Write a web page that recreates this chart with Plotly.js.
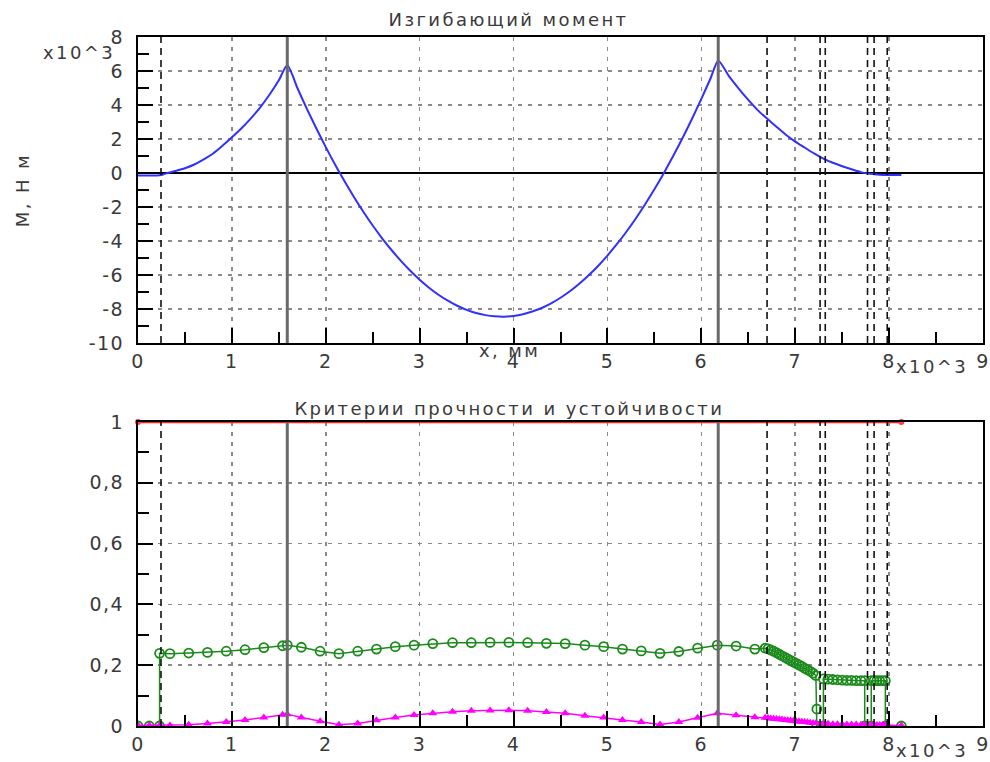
<!DOCTYPE html>
<html>
<head>
<meta charset="utf-8">
<script src="https://cdn.plot.ly/plotly-3.0.1.min.js"></script>
<style>
html,body{margin:0;padding:0;background:#fff;}
#chart{width:990px;height:762px;}
#chart .main-svg text{letter-spacing:1.5px;}
#chart .main-svg .annotation text{letter-spacing:2.4px;}
#chart .gridlayer path{stroke-dasharray:4px 6px !important;}
</style>
</head>
<body>
<div id="chart"></div>
<script>
// ---- Data (x in 10^3 mm) ----
// Bending moment M, x10^3 N m
const momentX = [0, 0.1, 0.2, 0.25, 0.3, 0.4, 0.5, 0.6, 0.7, 0.8, 0.9, 1.0, 1.1, 1.2, 1.3, 1.4, 1.5, 1.59,
  1.7, 1.8, 1.9, 2.0, 2.1, 2.2, 2.3, 2.4, 2.5, 2.6, 2.7, 2.8, 2.9, 3.0, 3.1, 3.2, 3.3, 3.4, 3.5, 3.6, 3.7, 3.8, 3.9,
  4.0, 4.1, 4.2, 4.3, 4.4, 4.5, 4.6, 4.7, 4.8, 4.9, 5.0, 5.1, 5.2, 5.3, 5.4, 5.5, 5.6, 5.7, 5.8, 5.9, 6.0, 6.1, 6.18,
  6.3, 6.4, 6.5, 6.6, 6.7, 6.8, 6.9, 7.0, 7.1, 7.2, 7.3, 7.4, 7.5, 7.6, 7.7, 7.8, 7.9, 8.0, 8.13];
const momentY = [-0.15, -0.15, -0.15, -0.12, -0.02, 0.12, 0.28, 0.5, 0.8, 1.15, 1.6, 2.1, 2.62, 3.2, 3.85, 4.6, 5.45, 6.35,
  4.97, 3.76, 2.62, 1.52, 0.49, -0.49, -1.41, -2.28, -3.09, -3.84, -4.53, -5.17, -5.75, -6.28, -6.75, -7.16, -7.51, -7.81, -8.05, -8.24, -8.36, -8.43, -8.45,
  -8.41, -8.31, -8.15, -7.94, -7.67, -7.34, -6.96, -6.52, -6.02, -5.47, -4.86, -4.19, -3.47, -2.69, -1.85, -0.96, -0.01, 1.0, 2.06, 3.18, 4.36, 5.59, 6.62,
  5.65, 4.95, 4.3, 3.7, 3.2, 2.72, 2.25, 1.85, 1.5, 1.15, 0.85, 0.6, 0.4, 0.22, 0.05, -0.05, -0.1, -0.12, -0.12];

// Criteria
const strengthX = [0, 8.13];
const strengthY = [1, 1];

const stabX = [0, 0.12, 0.23, 0.23, 0.34, 0.54, 0.74, 0.94, 1.14, 1.34, 1.54, 1.59, 1.74, 1.94, 2.14, 2.34, 2.54, 2.74, 2.94,
  3.14, 3.35, 3.55, 3.75, 3.95, 4.15, 4.35, 4.55, 4.76, 4.96, 5.16, 5.36, 5.56, 5.76, 5.96, 6.17, 6.37, 6.57, 6.68,
  6.71, 6.74, 6.77, 6.80, 6.83, 6.86, 6.89, 6.92, 6.95, 6.98, 7.01, 7.04, 7.07, 7.10, 7.13, 7.16, 7.19, 7.22,
  7.23, 7.23, 7.30, 7.30, 7.35, 7.40, 7.45, 7.50, 7.55, 7.60, 7.65, 7.70, 7.74, 7.74, 7.81, 7.81, 7.84, 7.87, 7.90, 7.93, 7.96, 7.96, 8.13];
const stabY = [0, 0, 0, 0.239, 0.238, 0.240, 0.242, 0.246, 0.251, 0.258, 0.264, 0.266, 0.259, 0.246, 0.238, 0.246, 0.253, 0.261, 0.266,
  0.271, 0.274, 0.274, 0.275, 0.275, 0.274, 0.272, 0.271, 0.266, 0.261, 0.253, 0.247, 0.239, 0.245, 0.256, 0.266, 0.263, 0.253, 0.256,
  0.254, 0.250, 0.246, 0.241, 0.236, 0.231, 0.226, 0.221, 0.216, 0.211, 0.206, 0.201, 0.196, 0.190, 0.185, 0.180, 0.174, 0.166,
  0.056, 0, 0, 0.155, 0.154, 0.153, 0.152, 0.151, 0.150, 0.150, 0.149, 0.149, 0.149, 0, 0, 0.149, 0.149, 0.149, 0.149, 0.149, 0.149, 0, 0];

const bendX = [0, 0.12, 0.23, 0.34, 0.54, 0.74, 0.94, 1.14, 1.34, 1.54, 1.59, 1.74, 1.94, 2.14, 2.34, 2.54, 2.74, 2.94,
  3.14, 3.35, 3.55, 3.75, 3.95, 4.15, 4.35, 4.55, 4.76, 4.96, 5.16, 5.36, 5.56, 5.76, 5.96, 6.17, 6.37, 6.57, 6.68,
  6.71, 6.74, 6.77, 6.80, 6.83, 6.86, 6.89, 6.92, 6.95, 6.98, 7.01, 7.04, 7.07, 7.10, 7.13, 7.16, 7.19, 7.22,
  7.30, 7.35, 7.40, 7.45, 7.50, 7.55, 7.60, 7.65, 7.70, 7.74, 7.81, 7.84, 7.87, 7.90, 7.93, 7.96, 8.13];
const bendY = [0.002, 0.002, 0.002, 0.002, 0.004, 0.008, 0.013, 0.020, 0.028, 0.037, 0.039, 0.028, 0.016, 0.004, 0.008, 0.019, 0.028, 0.036,
  0.042, 0.047, 0.050, 0.051, 0.052, 0.050, 0.046, 0.042, 0.034, 0.028, 0.020, 0.013, 0.005, 0.013, 0.027, 0.042, 0.035, 0.029, 0.027,
  0.026, 0.025, 0.024, 0.023, 0.022, 0.021, 0.020, 0.019, 0.018, 0.017, 0.016, 0.015, 0.014, 0.013, 0.012, 0.011, 0.010, 0.009,
  0.007, 0.007, 0.006, 0.006, 0.006, 0.005, 0.005, 0.005, 0.004, 0.004, 0.004, 0.004, 0.003, 0.003, 0.003, 0.003, 0.002];

// supports (solid) and section boundaries (dashed), x in 10^3 mm
const supportX = [1.59, 6.18];
const sectionX = [0.245, 6.70, 7.265, 7.32, 7.77, 7.84, 7.98];

const xTicks = [0, 1, 2, 3, 4, 5, 6, 7, 8, 9];
const xTickText = ['0', '1', '2', '3', '4', '5', '6', '7', '8', '9'];
const mTicks = [-10, -8, -6, -4, -2, 0, 2, 4, 6, 8];
const mTickText = ['-10', '-8', '-6', '-4', '-2', '0', '2', '4', '6', '8'];
const kTicks = [0, 0.2, 0.4, 0.6, 0.8, 1];
const kTickText = ['0', '0,2', '0,4', '0,6', '0,8', '1'];

// ---- Layout helpers ----
const W = 990, H = 762, ML = 138, MR = 7, MT = 37, MB = 36;
const PW = W - ML - MR, PH = H - MT - MB;
const px = v => (v - ML) / PW;
const py = v => (H - MB - v) / PH;

const FONT = 'DejaVu Sans, Verdana, sans-serif';
const TXT = '#3a3a3a';
const tickFont = {family: FONT, size: 19, color: TXT};

const tickStyle = (minorStep) => ({
  ticks: 'inside', ticklen: 15, tickwidth: 2, tickcolor: '#000',
  minor: {dtick: minorStep, ticks: 'inside', ticklen: 11, tickwidth: 2, tickcolor: '#000', showgrid: false}
});

// main axis: labels + ticks + frame line + grid (dotted via CSS)
function mainAxis(vals, text, range, minorStep, extra) {
  return Object.assign({range: range, tickmode: 'array', tickvals: vals, ticktext: text,
    showline: true, linecolor: '#000', linewidth: 2, mirror: true,
    showgrid: true, gridcolor: '#8a8a8a', gridwidth: 1.5,
    zeroline: false, tickfont: tickFont}, tickStyle(minorStep), extra);
}
// mirrored ticks on the opposite side
function mirrorAxis(vals, range, minorStep, extra) {
  return Object.assign({range: range, tickmode: 'array', tickvals: vals, showticklabels: false,
    showline: false, showgrid: false, zeroline: false}, tickStyle(minorStep), extra);
}

const traces = [
  {x: momentX, y: momentY, xaxis: 'x', yaxis: 'y', mode: 'lines', line: {color: '#3030ff', width: 2, shape: 'spline', smoothing: 0.6}},
  {x: strengthX, y: strengthY, xaxis: 'x2', yaxis: 'y2', mode: 'lines+markers', cliponaxis: false,
   line: {color: '#ff2020', width: 2.5}, marker: {color: '#ff4040', size: 6}},
  {x: stabX, y: stabY, xaxis: 'x2', yaxis: 'y2', mode: 'lines+markers', cliponaxis: true,
   line: {color: '#1a8a1a', width: 1.5},
   marker: {symbol: 'circle-open', color: '#1a8a1a', size: 9, line: {width: 1.8, color: '#1a8a1a'}}},
  {x: bendX, y: bendY, xaxis: 'x2', yaxis: 'y2', mode: 'lines+markers', cliponaxis: true,
   line: {color: '#ff00ff', width: 1.5},
   marker: {symbol: 'triangle-up', color: '#ff00ff', size: 8}}
];

const shapes = [];
[['x', 'y'], ['x2', 'y2']].forEach(([xa, ya]) => {
  supportX.forEach(v => shapes.push({type: 'line', xref: xa, yref: ya + ' domain', x0: v, x1: v, y0: 0, y1: 1,
    line: {color: '#6a6a6a', width: 3}, layer: 'above'}));
  sectionX.forEach(v => shapes.push({type: 'line', xref: xa, yref: ya + ' domain', x0: v, x1: v, y0: 0, y1: 1,
    line: {color: '#111', width: 1.6, dash: '7px,5px'}, layer: 'above'}));
});

const ann = (text, x, y, opts) => Object.assign({text: text, xref: 'paper', yref: 'paper', x: px(x), y: py(y),
  xanchor: 'center', yanchor: 'middle', showarrow: false, font: {family: FONT, size: 18, color: TXT}}, opts || {});

const XR = [0, 9], MR_ = [-10, 8], KR = [0, 1];
const topDom = [py(343), 1], botDom = [0, py(422)];

const layout = {
  width: W, height: H, margin: {l: ML, r: MR, t: MT, b: MB},
  paper_bgcolor: '#fff', plot_bgcolor: '#fff', showlegend: false,
  // top panel
  xaxis: mainAxis(xTicks, xTickText, XR, 0.5, {anchor: 'y'}),
  yaxis: mainAxis(mTicks, mTickText, MR_, 1, {anchor: 'x', domain: topDom,
    zeroline: true, zerolinecolor: '#000', zerolinewidth: 2, ticklabelstandoff: 8}),
  xaxis3: mirrorAxis(xTicks, XR, 0.5, {overlaying: 'x', side: 'top', anchor: 'y'}),
  yaxis3: mirrorAxis(mTicks, MR_, 1, {overlaying: 'y', side: 'right', anchor: 'x'}),
  // bottom panel
  xaxis2: mainAxis(xTicks, xTickText, XR, 0.5, {anchor: 'y2'}),
  yaxis2: mainAxis(kTicks, kTickText, KR, 0.1, {anchor: 'x2', domain: botDom, ticklabelstandoff: 8}),
  xaxis4: mirrorAxis(xTicks, XR, 0.5, {overlaying: 'x2', side: 'top', anchor: 'y2'}),
  yaxis4: mirrorAxis(kTicks, KR, 0.1, {overlaying: 'y2', side: 'right', anchor: 'x2'}),
  shapes: shapes,
  annotations: [
    ann('Изгибающий момент', 508, 20),
    ann('Критерии прочности и устойчивости', 509, 408),
    ann('x, мм', 509, 350),
    ann('М, Н м', 22, 190, {textangle: -90}),
    ann('x10^3', 111, 52, {xanchor: 'right', font: {family: FONT, size: 18, color: TXT}}),
    ann('x10^3', 900, 367, {xanchor: 'left', font: {family: FONT, size: 18, color: TXT}}),
    ann('x10^3', 900, 750, {xanchor: 'left', font: {family: FONT, size: 18, color: TXT}})
  ]
};

Plotly.newPlot('chart', traces, layout, {staticPlot: true, displayModeBar: false});
</script>
</body>
</html>
